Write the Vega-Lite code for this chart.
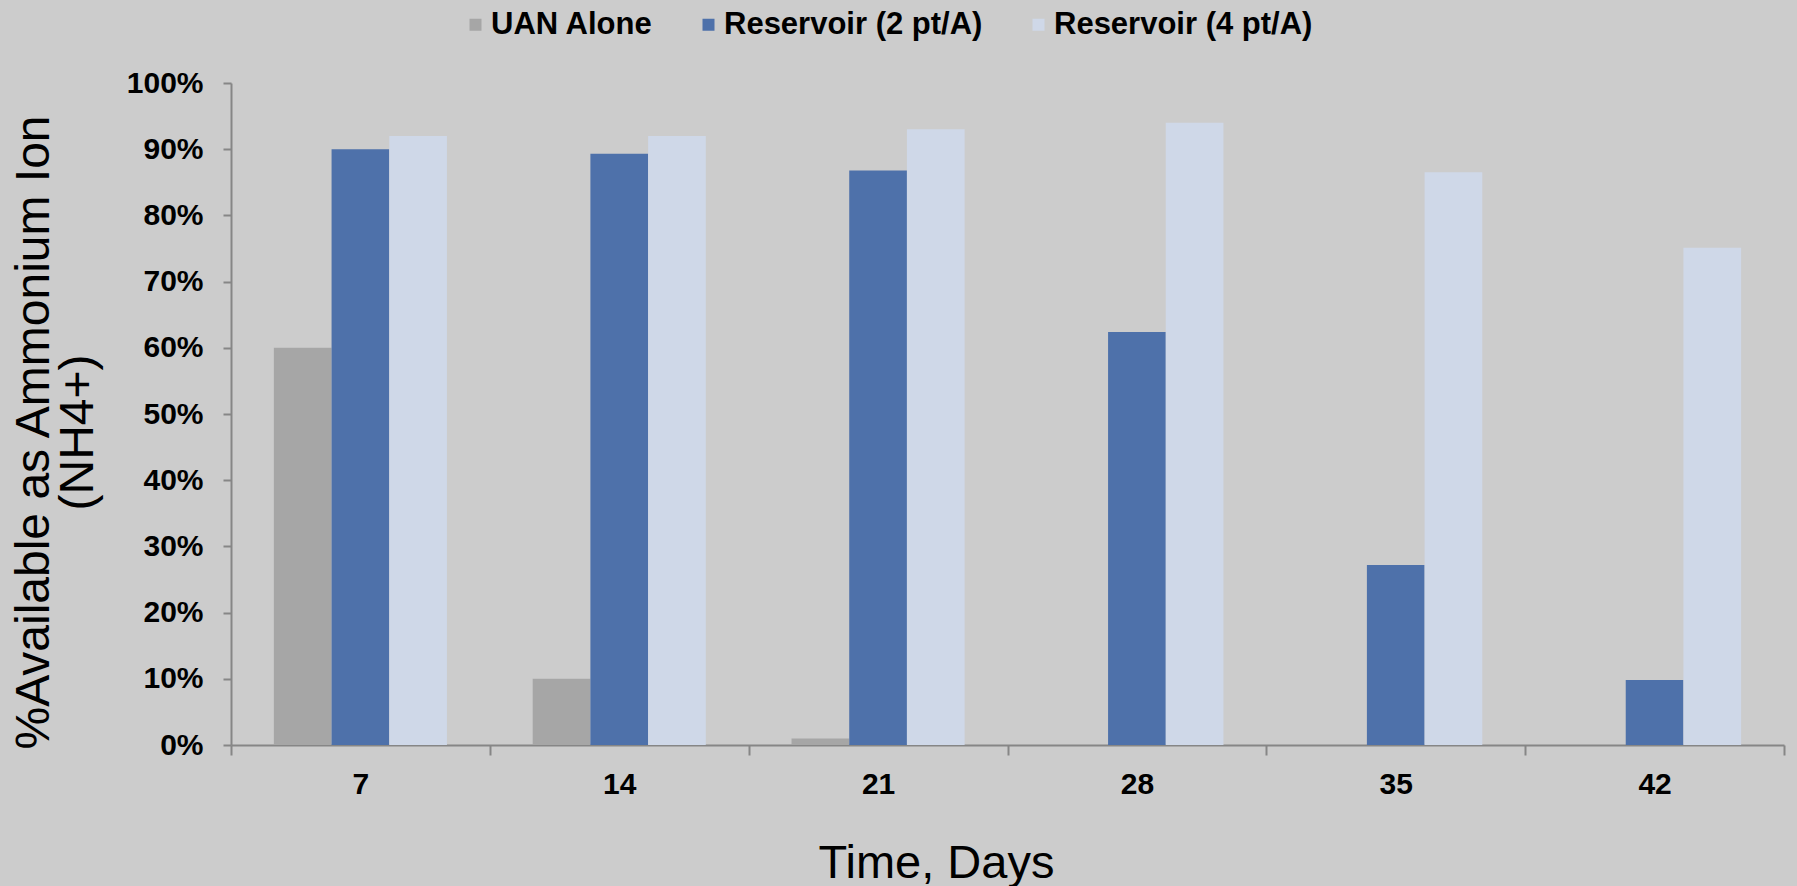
{
  "$schema": "https://vega.github.io/schema/vega-lite/v6.json",
  "width": 1553,
  "height": 662,
  "autosize": {"type": "none"},
  "padding": {"left": 231, "top": 83, "right": 13, "bottom": 141},
  "background": "#cccccc",
  "config": {"view": {"stroke": null}, "axis": {"grid": false}},
  "data": {
    "values": [
      {"day": 7, "series": "UAN Alone", "value": 0.60},
      {"day": 7, "series": "Reservoir (2 pt/A)", "value": 0.90},
      {"day": 7, "series": "Reservoir (4 pt/A)", "value": 0.92},
      {"day": 14, "series": "UAN Alone", "value": 0.10},
      {"day": 14, "series": "Reservoir (2 pt/A)", "value": 0.893},
      {"day": 14, "series": "Reservoir (4 pt/A)", "value": 0.92},
      {"day": 21, "series": "UAN Alone", "value": 0.01},
      {"day": 21, "series": "Reservoir (2 pt/A)", "value": 0.868},
      {"day": 21, "series": "Reservoir (4 pt/A)", "value": 0.93},
      {"day": 28, "series": "UAN Alone", "value": 0},
      {"day": 28, "series": "Reservoir (2 pt/A)", "value": 0.624},
      {"day": 28, "series": "Reservoir (4 pt/A)", "value": 0.94},
      {"day": 35, "series": "UAN Alone", "value": 0},
      {"day": 35, "series": "Reservoir (2 pt/A)", "value": 0.272},
      {"day": 35, "series": "Reservoir (4 pt/A)", "value": 0.865},
      {"day": 42, "series": "UAN Alone", "value": 0},
      {"day": 42, "series": "Reservoir (2 pt/A)", "value": 0.098},
      {"day": 42, "series": "Reservoir (4 pt/A)", "value": 0.751}
    ]
  },
  "mark": {"type": "bar"},
  "encoding": {
    "x": {
      "field": "day",
      "type": "ordinal",
      "sort": [7, 14, 21, 28, 35, 42],
      "scale": {"paddingInner": 0, "paddingOuter": 0},
      "axis": {
        "title": "Time, Days",
        "labelAngle": 0,
        "labelFont": "Liberation Sans",
        "labelFontWeight": "bold",
        "labelFontSize": 30,
        "labelColor": "#000000",
        "labelPadding": 14,
        "tickBand": "extent",
        "tickSize": 10,
        "tickColor": "#868686",
        "tickWidth": 2,
        "domainColor": "#868686",
        "domainWidth": 2,
        "titleFont": "Liberation Sans",
        "titleFontSize": 47,
        "titleFontWeight": "normal",
        "titleColor": "#000000",
        "titleX": 705,
        "titleY": 132,
        "titleBaseline": "alphabetic",
        "titleAlign": "center"
      }
    },
    "xOffset": {
      "field": "series",
      "type": "nominal",
      "sort": ["UAN Alone", "Reservoir (2 pt/A)", "Reservoir (4 pt/A)"],
      "scale": {"paddingInner": 0, "paddingOuter": 0.743}
    },
    "y": {
      "field": "value",
      "type": "quantitative",
      "scale": {"domain": [0, 1], "nice": false},
      "axis": {
        "values": [0, 0.1, 0.2, 0.3, 0.4, 0.5, 0.6, 0.7, 0.8, 0.9, 1],
        "format": ".0%",
        "title": ["%Available as Ammonium Ion", "(NH4+)"],
        "labelFont": "Liberation Sans",
        "labelFontWeight": "bold",
        "labelFontSize": 30,
        "labelColor": "#000000",
        "labelPadding": 20,
        "tickSize": 8,
        "tickColor": "#868686",
        "tickWidth": 2,
        "domainColor": "#868686",
        "domainWidth": 2,
        "titleFont": "Liberation Sans",
        "titleFontSize": 48,
        "titleFontWeight": "normal",
        "titleColor": "#000000",
        "titleAngle": -90,
        "titleX": -197,
        "titleY": 349,
        "titleBaseline": "middle",
        "titleAlign": "center",
        "titleLineHeight": 44
      }
    },
    "color": {
      "field": "series",
      "type": "nominal",
      "scale": {
        "domain": ["UAN Alone", "Reservoir (2 pt/A)", "Reservoir (4 pt/A)"],
        "range": ["#a6a6a6", "#4e71aa", "#cfd8e8"]
      },
      "legend": {
        "orient": "none",
        "legendX": 229,
        "legendY": -74,
        "direction": "horizontal",
        "title": null,
        "symbolType": "square",
        "symbolSize": 144,
        "symbolStrokeWidth": 0,
        "labelFont": "Liberation Sans",
        "labelFontWeight": "bold",
        "labelFontSize": 31,
        "labelColor": "#000000",
        "labelOffset": 0,
        "labelLimit": 0,
        "columnPadding": 40
      }
    }
  }
}
